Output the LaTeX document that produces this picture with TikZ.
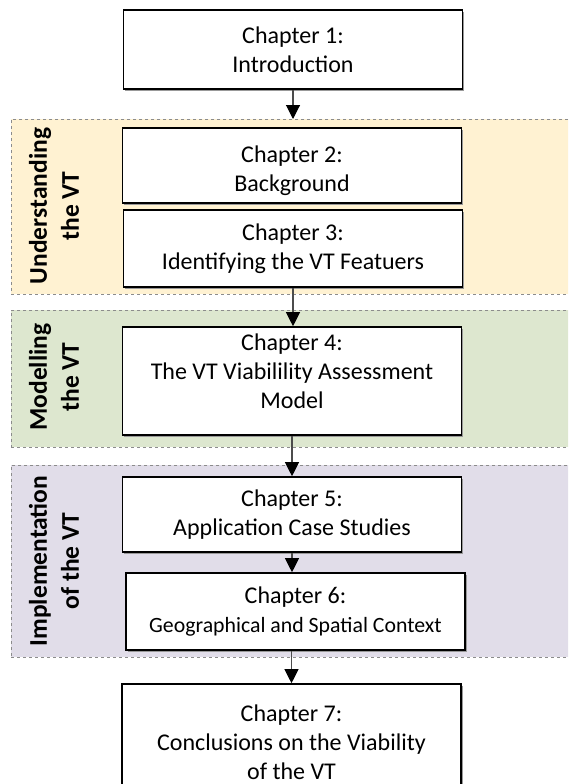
\documentclass[tikz,border=0pt]{standalone}
\usepackage{fontspec}
\setmainfont{Carlito}
\usepackage{xcolor}
\usetikzlibrary{arrows.meta,shadows}

\definecolor{BandYellow}{HTML}{FFF2D2}
\definecolor{BandGreen}{HTML}{DDE7CF}
\definecolor{BandPurple}{HTML}{E1DDE9}

\begin{document}
\begin{tikzpicture}[x=1pt,y=-1pt,
    chapter/.style={draw=black,line width=1.6pt,fill=white,minimum width=339pt,align=center,inner sep=2pt,
        font=\fontsize{24}{29}\selectfont,
        drop shadow={shadow xshift=1.6pt,shadow yshift=-1.6pt,fill=black!40,opacity=1}},
    band/.style={draw=black!45,dashed,line width=0.8pt,inner sep=0pt,anchor=north west,minimum width=569pt},
    part/.style={rotate=90,align=center,font=\bfseries\fontsize{25.5}{32}\selectfont},
    flow/.style={draw=black!70,line width=1.1pt,-{Triangle[width=14pt,length=14pt,color=black]}}]

    \useasboundingbox (0,0) rectangle (568,784);
    \clip (0,0) rectangle (568,784);

    % Draw the bands
    \node[band,fill=BandYellow,minimum height=175pt] (understand) at (11,119) {};
    \node[band,fill=BandGreen,minimum height=137pt] (modelling) at (11,310) {};
    \node[band,fill=BandPurple,minimum height=192pt] (implement) at (11,465) {};

    % Add the band labels
    \node[part] (understandlbl) at (54,206) {Understanding\\the VT};
    \node[part] (modellinglbl) at (54,377) {Modelling\\the VT};
    \node[part] (implementlbl) at (54,561) {Implementation\\of the VT};

    % Add the chapters
    \node[chapter,minimum height=79pt] (intro) at (293,49.5) {Chapter 1:\\Introduction};
    \node[chapter,minimum height=75pt,text height=57pt] (background) at (292,165.5) {Chapter 2:\\Background};
    \node[chapter,minimum height=77pt] (features) at (293,248.5) {Chapter 3:\\Identifying the VT Featuers};
    \node[chapter,minimum height=108pt,text depth=20pt] (model) at (292,381) {Chapter 4:\\The VT Viabilility Assessment\\Model};
    \node[chapter,minimum height=75pt] (cases) at (292,514.5) {Chapter 5:\\Application Case Studies};
    \node[chapter,minimum height=77pt] (context) at (295.5,611.5) {Chapter 6:\\{\fontsize{21.8}{26}\selectfont Geographical and Spatial Context}};
    \node[chapter,minimum height=116pt] (conclusion) at (291.5,742) {Chapter 7:\\Conclusions on the Viability\\of the VT};

    % Draw the arrows
    \draw[flow] (intro.south) -- (intro.south |- understand.north);
    \draw[flow] (features.south) -- (features.south |- model.north);
    \draw[flow] (model.south) -- (model.south |- cases.north);
    \draw[flow] (cases.south) -- (cases.south |- context.north);
    \draw[flow] (conclusion.north |- context.south) -- (conclusion.north);
\end{tikzpicture}
\end{document}
